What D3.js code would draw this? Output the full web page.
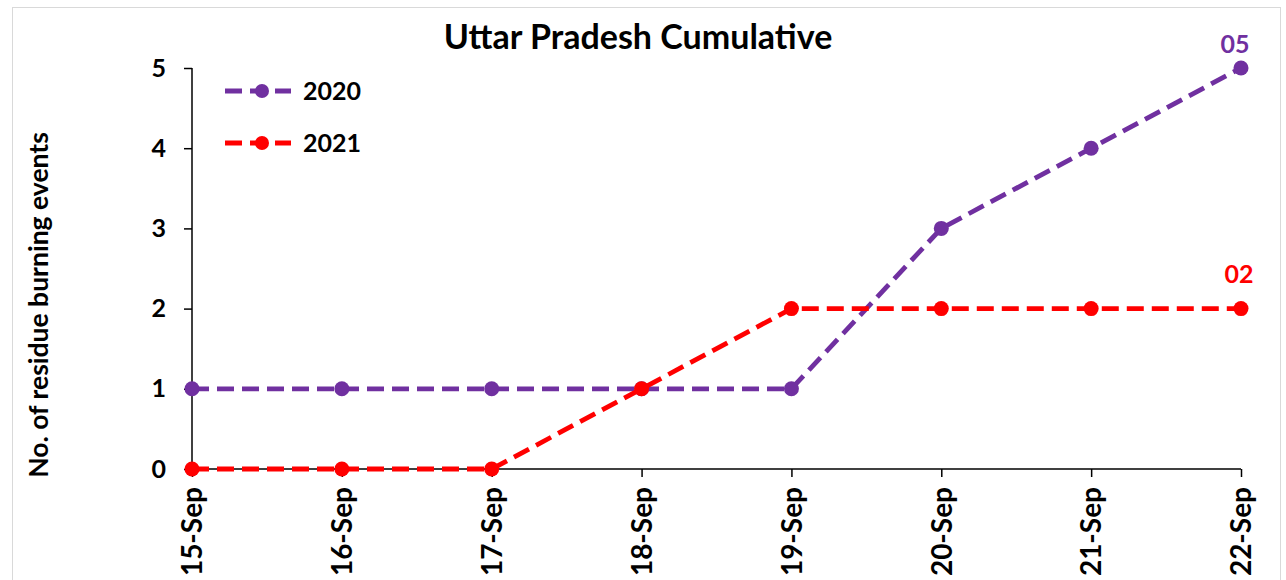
<!DOCTYPE html>
<html><head><meta charset="utf-8">
<script src="https://cdn.jsdelivr.net/npm/d3@7"></script>
<style>body{margin:0;background:#fff;} text{font-family:Lato,"Open Sans",sans-serif;font-weight:bold;}</style>
</head><body>
<svg id="c" width="1286" height="580"></svg>
<script>
const categories = ["15-Sep","16-Sep","17-Sep","18-Sep","19-Sep","20-Sep","21-Sep","22-Sep"];
const values2020 = [1,1,1,1,1,3,4,5];
const values2021 = [0,0,0,1,2,2,2,2];
const yTicks = [0,1,2,3,4,5];
const seriesNames = ["2020","2021"];
const seriesColors = ["#7030A0","#FF0000"];
const endLabels = ["05","02"];

const svg = d3.select("#c");
svg.append("rect").attr("x",12.5).attr("y",7.5).attr("width",1268).attr("height",580).attr("fill","#fff").attr("stroke","#d9d9d9");

const x = d3.scalePoint().domain(categories).range([192,1241]);
const y = d3.scaleLinear().domain([0,5]).range([469,68]);

const yAxis = svg.append("g").attr("transform","translate(192,0)")
  .call(d3.axisLeft(y).tickValues(yTicks).tickFormat(d3.format("d")).tickSize(8).tickPadding(18));
yAxis.select(".domain").attr("stroke","#000").attr("stroke-width",1.5).attr("d","M0,68V469");
yAxis.selectAll(".tick line").attr("stroke","#000").attr("stroke-width",1.5);
yAxis.selectAll("text").attr("font-size",25).attr("fill","#000");

const xAxis = svg.append("g").attr("transform","translate(0,469)")
  .call(d3.axisBottom(x).tickSize(8));
xAxis.select(".domain").attr("stroke","#000").attr("stroke-width",1.5).attr("d","M192,0H1241");
xAxis.selectAll(".tick line").attr("stroke","#000").attr("stroke-width",1.5);
xAxis.selectAll("text").attr("font-size",28).attr("fill","#000")
  .attr("transform","rotate(-90)").attr("text-anchor","end").attr("x",-18).attr("y",0).attr("dy","0.35em");

const line = d3.line().x((d,i)=>x(categories[i])).y(d=>y(d));
const data = [values2020, values2021];
data.forEach((vals,k)=>{
  svg.append("path").datum(vals).attr("d",line).attr("fill","none")
    .attr("stroke",seriesColors[k]).attr("stroke-width",4.8).attr("stroke-dasharray","17,8");
  svg.selectAll(null).data(vals).enter().append("circle")
    .attr("cx",(d,i)=>x(categories[i])).attr("cy",d=>y(d)).attr("r",7.5).attr("fill",seriesColors[k]);
  const last = vals[vals.length-1];
  svg.append("text").attr("x",x(categories[categories.length-1]) - (k===0?6:2))
    .attr("y",y(last) - (k===0?15:26))
    .attr("text-anchor","middle").attr("font-size",25).attr("fill",seriesColors[k]).text(endLabels[k]);
});

// legend
const leg = svg.append("g");
seriesNames.forEach((n,k)=>{
  const ly = 91 + k*52;
  leg.append("line").attr("x1",225).attr("x2",291).attr("y1",ly).attr("y2",ly)
    .attr("stroke",seriesColors[k]).attr("stroke-width",4.8).attr("stroke-dasharray","17,8");
  leg.append("circle").attr("cx",262).attr("cy",ly).attr("r",7).attr("fill",seriesColors[k]);
  leg.append("text").attr("x",303).attr("y",ly).attr("dy","0.35em").attr("font-size",25).attr("fill","#000").text(n);
});

svg.append("text").attr("x",638).attr("y",49).attr("text-anchor","middle").attr("font-size",34).attr("fill","#000").text("Uttar Pradesh Cumulative");
svg.append("text").attr("transform","translate(48,305) rotate(-90)").attr("text-anchor","middle").attr("font-size",26.5).attr("fill","#000").text("No. of residue burning events");
</script>
</body></html>
